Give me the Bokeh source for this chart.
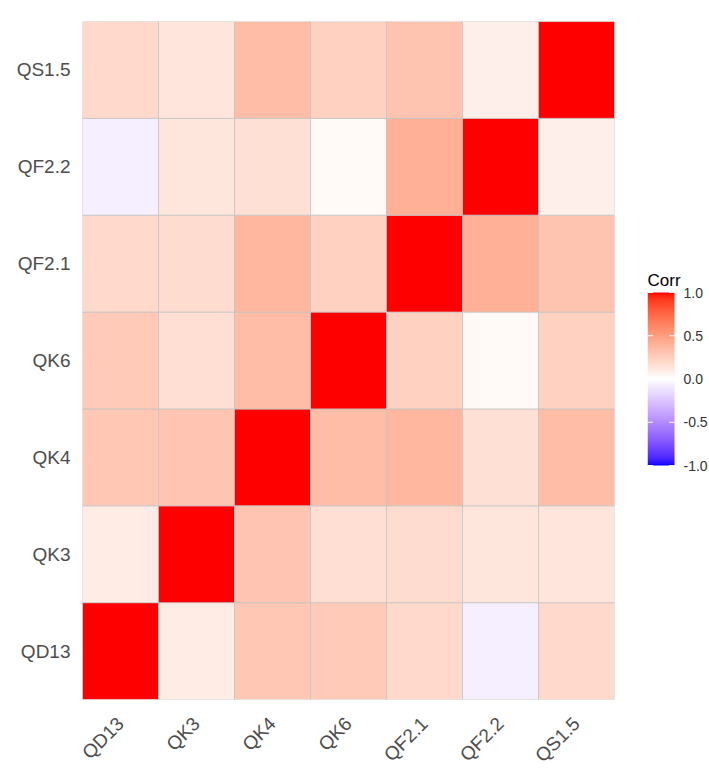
import math
import numpy as np
from bokeh.plotting import figure
from bokeh.layouts import row
from bokeh.models import (ColumnDataSource, LinearColorMapper, FactorRange,
                          Range1d, Label)
from bokeh.embed import file_html
from bokeh.resources import INLINE

# ---------------- data ----------------
labels = ["QD13", "QK3", "QK4", "QK6", "QF2.1", "QF2.2", "QS1.5"]
row_QD13 = [1.00, 0.10, 0.29, 0.28, 0.20, -0.07, 0.20]
row_QK3 = [0.10, 1.00, 0.30, 0.17, 0.18, 0.13, 0.14]
row_QK4 = [0.29, 0.30, 1.00, 0.35, 0.37, 0.16, 0.35]
row_QK6 = [0.28, 0.17, 0.35, 1.00, 0.24, 0.03, 0.24]
row_QF21 = [0.20, 0.18, 0.37, 0.24, 1.00, 0.41, 0.31]
row_QF22 = [-0.07, 0.13, 0.16, 0.03, 0.41, 1.00, 0.08]
row_QS15 = [0.20, 0.14, 0.35, 0.24, 0.31, 0.08, 1.00]
legend_ticks = [-1.0, -0.5, 0.0, 0.5, 1.0]
legend_tick_labels = ["-1.0", "-0.5", "0.0", "0.5", "1.0"]
legend_title = "Corr"

rows = [row_QD13, row_QK3, row_QK4, row_QK6, row_QF21, row_QF22, row_QS15]

xs, ys, vals = [], [], []
for i, r in enumerate(rows):
    for j, v in enumerate(r):
        xs.append(labels[j])
        ys.append(labels[i])
        vals.append(v)
src = ColumnDataSource(dict(x=xs, y=ys, v=vals))

# ------------- palette: blue-white-red interpolated in CIELAB -------------
def srgb_to_lab(rgb):
    c = np.array(rgb, dtype=float) / 255.0
    c = np.where(c <= 0.04045, c / 12.92, ((c + 0.055) / 1.055) ** 2.4)
    M = np.array([[0.4124564, 0.3575761, 0.1804375],
                  [0.2126729, 0.7151522, 0.0721750],
                  [0.0193339, 0.1191920, 0.9503041]])
    xyz = M @ c
    xyz = xyz / np.array([0.95047, 1.0, 1.08883])
    f = np.where(xyz > 216 / 24389, np.cbrt(xyz), (24389 / 27 * xyz + 16) / 116)
    return np.array([116 * f[1] - 16, 500 * (f[0] - f[1]), 200 * (f[1] - f[2])])

def lab_to_hex(lab):
    L, a, b = lab
    fy = (L + 16) / 116
    fx = fy + a / 500
    fz = fy - b / 200
    def finv(t):
        return t ** 3 if t ** 3 > 216 / 24389 else (116 * t - 16) / (24389 / 27)
    xyz = np.array([finv(fx), finv(fy), finv(fz)]) * np.array([0.95047, 1.0, 1.08883])
    Minv = np.array([[3.2404542, -1.5371385, -0.4985314],
                     [-0.9692660, 1.8760108, 0.0415560],
                     [0.0556434, -0.2040259, 1.0572252]])
    c = Minv @ xyz
    c = np.clip(c, 0, None)
    c = np.where(c <= 0.0031308, 12.92 * c, 1.055 * np.power(c, 1 / 2.4) - 0.055)
    c = np.clip(np.round(c * 255), 0, 255).astype(int)
    return "#%02x%02x%02x" % tuple(c)

lab_blue = srgb_to_lab((0, 0, 255))
lab_white = srgb_to_lab((255, 255, 255))
lab_red = srgb_to_lab((255, 0, 0))
palette = []
N = 256
for k in range(N):
    t = -1 + 2 * k / (N - 1)
    if t < 0:
        lab = lab_white + (lab_blue - lab_white) * (-t)
    else:
        lab = lab_white + (lab_red - lab_white) * t
    palette.append(lab_to_hex(lab))

mapper = LinearColorMapper(palette=palette, low=-1, high=1)

# ---------------- layout geometry (pixels) ----------------
TOP, FRAME_H, BOTTOM = 21, 678, 76
LEFT, FRAME_W, GAP = 82, 532, 25
BAR_TOP, BAR_H, BAR_W = 292, 173, 27
LEG_LEFT, LEG_FRAME_W = 8, 61

# ---------------- main heatmap ----------------
p = figure(
    frame_width=FRAME_W, frame_height=FRAME_H,
    x_range=FactorRange(factors=labels),
    y_range=FactorRange(factors=labels),
    output_backend="svg", toolbar_location=None, tools="",
    min_border_left=LEFT, min_border_right=GAP, min_border_top=TOP, min_border_bottom=BOTTOM,
)
p.outline_line_color = None
p.background_fill_color = "white"
p.grid.grid_line_color = None

p.rect(x="x", y="y", width=1, height=1, source=src,
       fill_color={"field": "v", "transform": mapper},
       line_color="#c4c4c4", line_width=0.8)

for ax in (p.xaxis, p.yaxis):
    ax.axis_line_color = None
    ax.major_tick_line_color = None
    ax.minor_tick_line_color = None
    ax.major_tick_out = 0
    ax.major_tick_in = 0
    ax.major_label_text_font = "Liberation Sans"
    ax.major_label_text_font_size = "19px"
    ax.major_label_text_color = "#4d4d4d"
p.yaxis.major_label_standoff = 12
p.xaxis.major_label_standoff = 21
p.xaxis.major_label_orientation = math.pi / 4

# ---------------- colour legend ----------------
units_per_px = 2.0 / BAR_H
y_top = 1 + (BAR_TOP - TOP) * units_per_px
y_bot = -1 - (TOP + FRAME_H - BAR_TOP - BAR_H) * units_per_px
x_end = LEG_FRAME_W / BAR_W

leg = figure(
    frame_width=LEG_FRAME_W, frame_height=FRAME_H,
    x_range=Range1d(0, x_end), y_range=Range1d(y_bot, y_top),
    x_axis_location=None, y_axis_location=None,
    output_backend="svg", toolbar_location=None, tools="",
    min_border_left=LEG_LEFT, min_border_right=0, min_border_top=TOP, min_border_bottom=BOTTOM,
)
leg.outline_line_color = None
leg.grid.grid_line_color = None

grad = np.linspace(-1, 1, 256).reshape(256, 1)
leg.image(image=[grad], x=0, y=-1, dw=1, dh=2, color_mapper=mapper)
leg.segment(x0=0, x1=0.2, y0=legend_ticks, y1=legend_ticks, line_color="white", line_width=1)
leg.segment(x0=0.8, x1=1, y0=legend_ticks, y1=legend_ticks, line_color="white", line_width=1)

leg.text(x=1, y=legend_ticks, text=legend_tick_labels, x_offset=9,
         text_font_size="14px", text_color="#333333",
         text_baseline="middle", text_align="left",
         text_font={"value": "Liberation Sans"})

leg.add_layout(Label(x=0, y=1, y_offset=12, text=legend_title,
                     text_font="Liberation Sans", text_font_size="17px",
                     text_color="black", text_baseline="alphabetic", text_align="left"))

layout = row(p, leg, spacing=0)
open("out.html", "w").write(file_html(layout, INLINE))
